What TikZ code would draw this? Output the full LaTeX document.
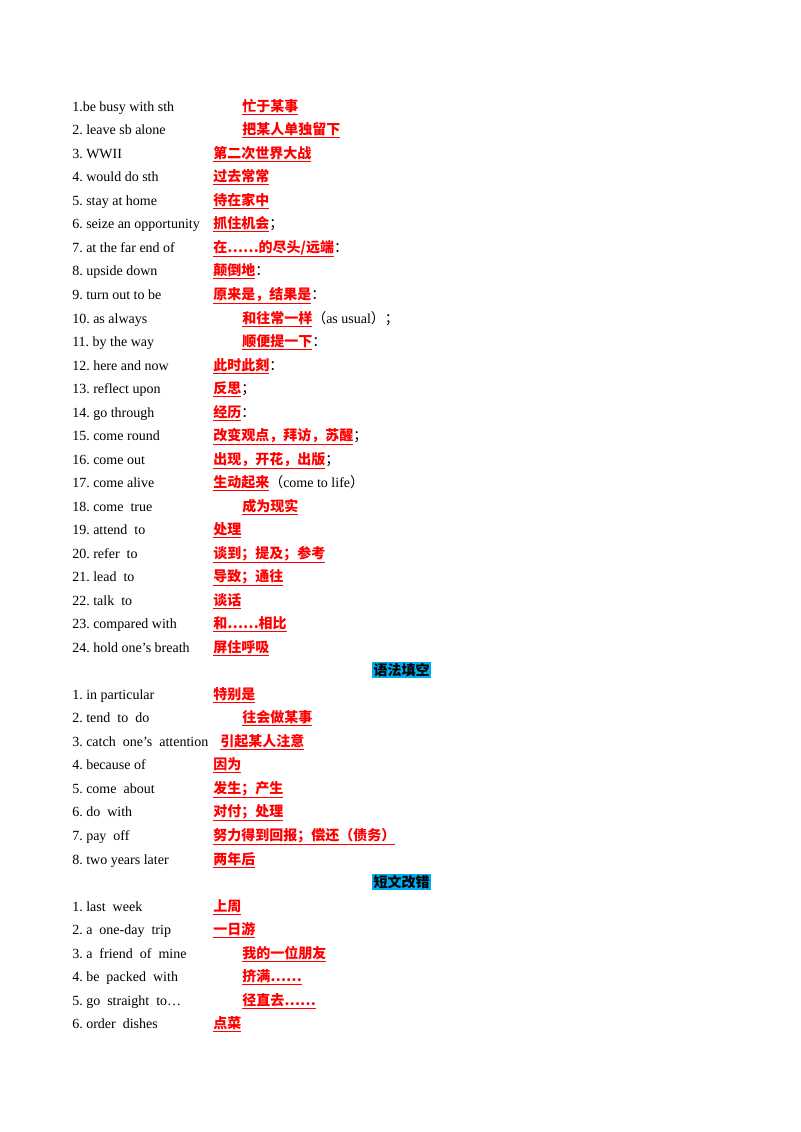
\documentclass[tikz,border=0pt]{standalone}
\usepackage{fontspec}
\setmainfont{Liberation Serif}
\newfontfamily\cjk{Noto Sans CJK SC}
\begin{document}
\begin{tikzpicture}[x=0.75pt,y=-0.75pt,
 en/.style={anchor=base west,inner sep=0pt,font=\fontsize{10.5}{12}\selectfont},
 zh/.style={anchor=base west,inner sep=0pt,font=\fontsize{10.5}{12}\selectfont\cjk\bfseries,text=red},
 hd/.style={anchor=base west,inner sep=1pt,fill=cyan,font=\fontsize{10.5}{12}\selectfont\cjk\bfseries}]
\useasboundingbox (0,0) rectangle (800,1132);
\def\row#1#2#3#4#5{\node[en] (e#1) at (72,#2+4) {#3};\node[zh] (z#1) at (#4,#2+4) {#5};}
\row{a1}{107}{1.be\ busy\ with\ sth}{242}{\underline{忙于某事}}
\row{a2}{130}{2.\ leave\ sb\ alone}{242}{\underline{把某人单独留下}}
\row{a3}{154}{3.\ WWII}{213}{\underline{第二次世界大战}}
\row{a4}{177}{4.\ would\ do\ sth}{213}{\underline{过去常常}}
\row{a5}{201}{5.\ stay\ at\ home}{213}{\underline{待在家中}}
\row{a6}{224}{6.\ seize an opportunity}{213}{\underline{抓住机会}\textcolor{black}{\mdseries；}}
\row{a7}{248}{7.\ at the far end of}{213}{\underline{在……的尽头/远端}\textcolor{black}{\mdseries：}}
\row{a8}{271}{8.\ upside down}{213}{\underline{颠倒地}\textcolor{black}{\mdseries：}}
\row{a9}{295}{9.\ turn\ out to be}{213}{\underline{原来是，结果是}\textcolor{black}{\mdseries：}}
\row{a10}{319}{10.\ as\ always}{242}{\underline{和往常一样}\textcolor{black}{\mdseries（}\textcolor{black}{\rmfamily\mdseries as usual}\textcolor{black}{\mdseries）；}}
\row{a11}{342}{11.\ by the way}{242}{\underline{顺便提一下}\textcolor{black}{\mdseries：}}
\row{a12}{366}{12.\ here and now}{213}{\underline{此时此刻}\textcolor{black}{\mdseries：}}
\row{a13}{389}{13.\ reflect upon}{213}{\underline{反思}\textcolor{black}{\mdseries；}}
\row{a14}{413}{14.\ go through}{213}{\underline{经历}\textcolor{black}{\mdseries：}}
\row{a15}{436}{15.\ come round}{213}{\underline{改变观点，拜访，苏醒}\textcolor{black}{\mdseries；}}
\row{a16}{460}{16.\ come out}{213}{\underline{出现，开花，出版}\textcolor{black}{\mdseries；}}
\row{a17}{483}{17.\ come alive}{213}{\underline{生动起来}\textcolor{black}{\mdseries（}\textcolor{black}{\rmfamily\mdseries come to life}\textcolor{black}{\mdseries）}}
\row{a18}{507}{18.\ come\ \ true}{242}{\underline{成为现实}}
\row{a19}{530}{19.\ attend\ \ to}{213}{\underline{处理}}
\row{a20}{554}{20.\ refer\ \ to}{213}{\underline{谈到；提及；参考}}
\row{a21}{577}{21.\ lead\ \ to}{213}{\underline{导致；通往}}
\row{a22}{601}{22.\ talk\ \ to}{213}{\underline{谈话}}
\row{a23}{624}{23.\ compared with}{213}{\underline{和……相比}}
\row{a24}{648}{24.\ hold one’s breath}{213}{\underline{屏住呼吸}}
\node[hd] (h1) at (372,671+4) {语法填空};
\row{b1}{695}{1.\ in particular}{213}{\underline{特别是}}
\row{b2}{718}{2.\ tend\ \ to\ \ do}{242}{\underline{往会做某事}}
\row{b3}{742}{3.\ catch\ \ one’s\ \ attention}{220}{\underline{引起某人注意}}
\row{b4}{765}{4.\ because of}{213}{\underline{因为}}
\row{b5}{789}{5.\ come\ \ about}{213}{\underline{发生；产生}}
\row{b6}{812}{6.\ do\ \ with}{213}{\underline{对付；处理}}
\row{b7}{836}{7.\ pay\ \ off}{213}{\underline{努力得到回报；偿还（债务）}}
\row{b8}{860}{8.\ two years later}{213}{\underline{两年后}}
\node[hd] (h2) at (372,883+4) {短文改错};
\row{c1}{907}{1.\ last\ \ week}{213}{\underline{上周}}
\row{c2}{930}{2.\ a\ \ one-day\ \ trip}{213}{\underline{一日游}}
\row{c3}{954}{3.\ a\ \ friend\ \ of\ \ mine}{242}{\underline{我的一位朋友}}
\row{c4}{977}{4.\ be\ \ packed\ \ with}{242}{\underline{挤满……}}
\row{c5}{1001}{5.\ go\ \ straight\ \ to…}{242}{\underline{径直去……}}
\row{c6}{1024}{6.\ order\ \ dishes}{213}{\underline{点菜}}
\end{tikzpicture}
\end{document}
